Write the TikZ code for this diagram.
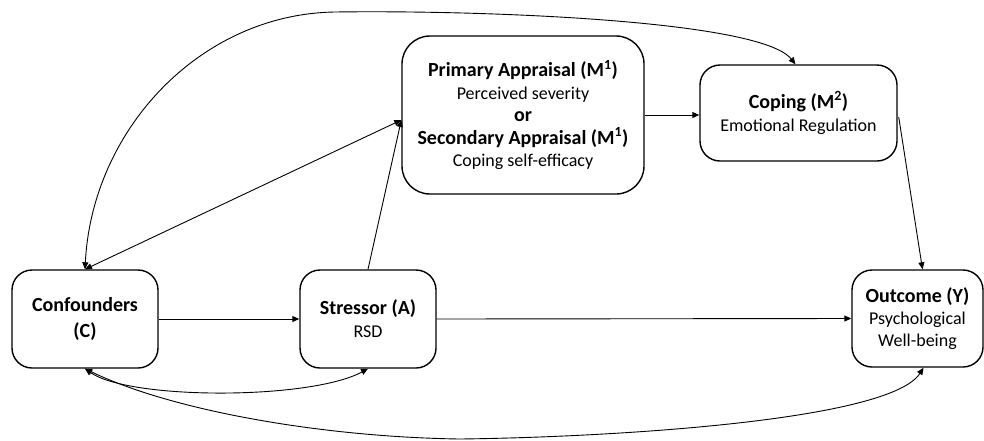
\documentclass[tikz,border=0pt]{standalone}
\usepackage{fontspec}
\setmainfont{Carlito}
\usetikzlibrary{arrows.meta,calc}

\tikzset{
  box/.style={draw, line width=1.4pt, rounded corners=20pt, align=center,
              inner sep=0pt, fill=white, font=\fontsize{18}{23}\selectfont},
  bigbox/.style={box, rounded corners=28pt},
  link/.style={line width=0.9pt, -{Triangle[length=7pt,width=6pt]}},
  twoway/.style={line width=0.9pt, {Triangle[length=7pt,width=6pt]}-{Triangle[length=7pt,width=6pt]}},
}
\newcommand{\hdtext}[1]{{\fontsize{20}{23}\selectfont\bfseries #1}}

\begin{document}
\begin{tikzpicture}[x=1pt,y=-1pt]
  \useasboundingbox (0,0) rectangle (984,440);

  % boxes
  \node[box, minimum width=146pt, minimum height=98pt, font=\fontsize{20}{26}\selectfont\bfseries]
    (conf) at (85,319) {Confounders\\(C)};
  \node[box, minimum width=136pt, minimum height=98pt]
    (str) at (368,319) {\hdtext{Stressor (A)}\\RSD};
  \node[bigbox, minimum width=242pt, minimum height=158pt, font=\fontsize{18}{22.5}\selectfont]
    (prim) at (523,115)
    {\hdtext{Primary Appraisal (M\textsuperscript{1})}\\
     Perceived severity\\
     \hdtext{or}\\
     \hdtext{Secondary Appraisal (M\textsuperscript{1})}\\
     Coping self-efficacy};
  \node[box, minimum width=197pt, minimum height=96pt]
    (cop) at (798.5,113)
    {\hdtext{Coping (M\textsuperscript{2})}\\Emotional Regulation};
  \node[box, minimum width=131pt, minimum height=97pt, font=\fontsize{18}{22}\selectfont]
    (out) at (917.5,318.5)
    {\hdtext{Outcome (Y)}\\Psychological\\Well-being};

  % straight paths
  \draw[link] (conf.east) -- (str.west);
  \draw[link] (str.east) -- (out.west);
  \draw[link] (prim.east) -- (prim.east -| cop.west);
  \draw[link] (str.north) -- ($(prim.west)+(0,5)$);
  \draw[twoway] (conf.north) -- ($(prim.west)+(0,5)$);
  \draw[link] ($(cop.east)+(1,4)$) -- ($(out.north)+(5,0)$);

  % curved paths
  \draw[twoway] (conf.north)
     .. controls (92,130) and (200,14) .. (335,12)
     .. controls (480,10) and (760,20) .. ($(cop.north)+(-3,0)$);
  \draw[twoway] (conf.south) .. controls (130,400) and (310,400) .. (str.south);
  \draw[twoway] (conf.south)
     .. controls (170,410) and (320,437) .. (460,439)
     .. controls (620,437) and (890,420) .. ($(out.south)+(6,0)$);
\end{tikzpicture}
\end{document}
